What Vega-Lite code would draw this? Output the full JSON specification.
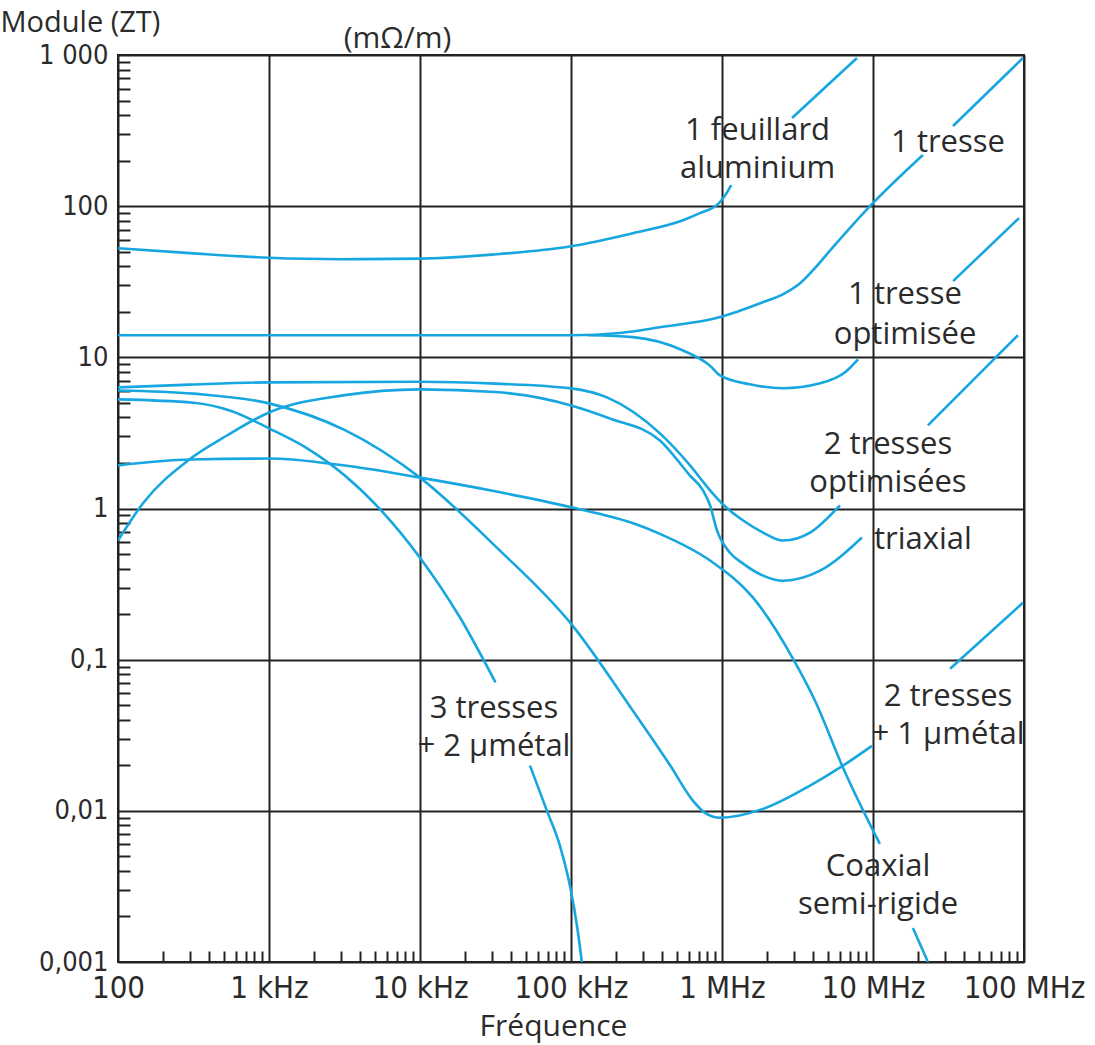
{
  "$schema": "https://vega.github.io/schema/vega-lite/v6.json",
  "width": 906,
  "height": 907,
  "autosize": {"type": "none"},
  "padding": {"left": 118, "top": 55, "right": 71, "bottom": 83},
  "background": "white",
  "config": {"view": {"stroke": "#222222", "strokeWidth": 2}},
  "datasets": {
    "curves": [
      {"s": "alu1", "f": 100, "z": 52.7}, {"s": "alu1", "f": 300, "z": 48.9}, {"s": "alu1", "f": 1000, "z": 45.6}, {"s": "alu1", "f": 3000, "z": 44.6}, {"s": "alu1", "f": 10000, "z": 45.0}, {"s": "alu1", "f": 30000, "z": 47.8}, {"s": "alu1", "f": 100000, "z": 54.3}, {"s": "alu1", "f": 257000, "z": 66.3}, {"s": "alu1", "f": 552000, "z": 80.8}, {"s": "alu1", "f": 714000, "z": 89.9}, {"s": "alu1", "f": 955000, "z": 104.7}, {"s": "alu1", "f": 1050000, "z": 118}, {"s": "alu1", "f": 1150000, "z": 138},
      {"s": "alu2", "f": 2910000, "z": 383}, {"s": "alu2", "f": 7830000, "z": 955},
      {"s": "tr1a", "f": 100, "z": 14.0}, {"s": "tr1a", "f": 10000, "z": 14.0}, {"s": "tr1a", "f": 100000, "z": 14.0}, {"s": "tr1a", "f": 211000, "z": 14.5}, {"s": "tr1a", "f": 388000, "z": 15.8}, {"s": "tr1a", "f": 960000, "z": 18.4}, {"s": "tr1a", "f": 1790000, "z": 22.8}, {"s": "tr1a", "f": 2600000, "z": 26.5}, {"s": "tr1a", "f": 3290000, "z": 30.9}, {"s": "tr1a", "f": 4010000, "z": 37.7}, {"s": "tr1a", "f": 5430000, "z": 53.5}, {"s": "tr1a", "f": 9550000, "z": 100}, {"s": "tr1a", "f": 21400000, "z": 218},
      {"s": "tr1b", "f": 33900000, "z": 339}, {"s": "tr1b", "f": 98400000, "z": 955},
      {"s": "op1a", "f": 130000, "z": 14.0}, {"s": "op1a", "f": 257000, "z": 13.6}, {"s": "op1a", "f": 552000, "z": 11.1}, {"s": "op1a", "f": 833000, "z": 8.8}, {"s": "op1a", "f": 970000, "z": 7.6}, {"s": "op1a", "f": 1530000, "z": 6.63}, {"s": "op1a", "f": 2540000, "z": 6.24}, {"s": "op1a", "f": 4460000, "z": 6.73}, {"s": "op1a", "f": 6530000, "z": 7.96}, {"s": "op1a", "f": 7960000, "z": 9.7},
      {"s": "op1b", "f": 33900000, "z": 31.9}, {"s": "op1b", "f": 92700000, "z": 83.4},
      {"s": "op2a", "f": 100, "z": 6.33}, {"s": "op2a", "f": 300, "z": 6.6}, {"s": "op2a", "f": 1000, "z": 6.83}, {"s": "op2a", "f": 10000, "z": 6.9}, {"s": "op2a", "f": 31400, "z": 6.7}, {"s": "op2a", "f": 100000, "z": 6.23}, {"s": "op2a", "f": 173000, "z": 5.43}, {"s": "op2a", "f": 388000, "z": 3.14}, {"s": "op2a", "f": 614000, "z": 1.93}, {"s": "op2a", "f": 833000, "z": 1.32}, {"s": "op2a", "f": 1050000, "z": 1.03}, {"s": "op2a", "f": 1380000, "z": 0.833}, {"s": "op2a", "f": 1870000, "z": 0.693}, {"s": "op2a", "f": 2540000, "z": 0.614}, {"s": "op2a", "f": 3830000, "z": 0.693}, {"s": "op2a", "f": 6040000, "z": 1.05},
      {"s": "op2b", "f": 23100000, "z": 3.55}, {"s": "op2b", "f": 91200000, "z": 14.0},
      {"s": "tri", "f": 100, "z": 0.614}, {"s": "tri", "f": 146, "z": 1.08}, {"s": "tri", "f": 291, "z": 2.08}, {"s": "tri", "f": 527, "z": 3.04}, {"s": "tri", "f": 1000, "z": 4.32}, {"s": "tri", "f": 3090, "z": 5.6}, {"s": "tri", "f": 10000, "z": 6.14}, {"s": "tri", "f": 31400, "z": 5.9}, {"s": "tri", "f": 100000, "z": 4.81}, {"s": "tri", "f": 181000, "z": 3.94}, {"s": "tri", "f": 388000, "z": 2.82}, {"s": "tri", "f": 614000, "z": 1.65}, {"s": "tri", "f": 748000, "z": 1.32}, {"s": "tri", "f": 833000, "z": 1.05}, {"s": "tri", "f": 927000, "z": 0.715}, {"s": "tri", "f": 1130000, "z": 0.51}, {"s": "tri", "f": 1380000, "z": 0.432}, {"s": "tri", "f": 1870000, "z": 0.36}, {"s": "tri", "f": 2540000, "z": 0.333}, {"s": "tri", "f": 4460000, "z": 0.388}, {"s": "tri", "f": 8450000, "z": 0.643},
      {"s": "m1a", "f": 100, "z": 6.04}, {"s": "m1a", "f": 316, "z": 5.75}, {"s": "m1a", "f": 1000, "z": 4.96}, {"s": "m1a", "f": 3162, "z": 3.31}, {"s": "m1a", "f": 10000, "z": 1.6}, {"s": "m1a", "f": 31623, "z": 0.562}, {"s": "m1a", "f": 100000, "z": 0.173}, {"s": "m1a", "f": 257000, "z": 0.0459}, {"s": "m1a", "f": 453000, "z": 0.02}, {"s": "m1a", "f": 643000, "z": 0.01164}, {"s": "m1a", "f": 771000, "z": 0.0097}, {"s": "m1a", "f": 970000, "z": 0.009}, {"s": "m1a", "f": 1870000, "z": 0.0103}, {"s": "m1a", "f": 3830000, "z": 0.0147}, {"s": "m1a", "f": 6330000, "z": 0.0199}, {"s": "m1a", "f": 9840000, "z": 0.0269},
      {"s": "m1b", "f": 32400000, "z": 0.0871}, {"s": "m1b", "f": 98400000, "z": 0.238},
      {"s": "m2a", "f": 100, "z": 5.27}, {"s": "m2a", "f": 316, "z": 5.01}, {"s": "m2a", "f": 562, "z": 4.42}, {"s": "m2a", "f": 1000, "z": 3.39}, {"s": "m2a", "f": 1778, "z": 2.51}, {"s": "m2a", "f": 3162, "z": 1.66}, {"s": "m2a", "f": 5623, "z": 0.955}, {"s": "m2a", "f": 10000, "z": 0.473}, {"s": "m2a", "f": 18400, "z": 0.19}, {"s": "m2a", "f": 31600, "z": 0.0708},
      {"s": "m2b", "f": 53500, "z": 0.0199}, {"s": "m2b", "f": 69300, "z": 0.01}, {"s": "m2b", "f": 84500, "z": 0.00586}, {"s": "m2b", "f": 100000, "z": 0.00295}, {"s": "m2b", "f": 109600, "z": 0.00173}, {"s": "m2b", "f": 118000, "z": 0.001},
      {"s": "coa", "f": 100, "z": 1.93}, {"s": "coa", "f": 300, "z": 2.11}, {"s": "coa", "f": 1000, "z": 2.14}, {"s": "coa", "f": 3090, "z": 1.93}, {"s": "coa", "f": 10000, "z": 1.6}, {"s": "coa", "f": 31400, "z": 1.3}, {"s": "coa", "f": 100000, "z": 1.02}, {"s": "coa", "f": 250000, "z": 0.807}, {"s": "coa", "f": 388000, "z": 0.68}, {"s": "coa", "f": 833000, "z": 0.453}, {"s": "coa", "f": 1600000, "z": 0.258}, {"s": "coa", "f": 2950000, "z": 0.1016}, {"s": "coa", "f": 4130000, "z": 0.0535}, {"s": "coa", "f": 6330000, "z": 0.0193}, {"s": "coa", "f": 11100000, "z": 0.00604},
      {"s": "cob", "f": 18400000, "z": 0.00168}, {"s": "cob", "f": 23100000, "z": 0.001}
    ],
    "labels": [
      {"t": "1 feuillard", "f": 1720000, "z": 273.5},
      {"t": "aluminium", "f": 1720000, "z": 153},
      {"t": "1 tresse", "f": 31400000, "z": 228},
      {"t": "1 tresse", "f": 16300000, "z": 22.4},
      {"t": "optimisée", "f": 16300000, "z": 12.2},
      {"t": "2 tresses", "f": 12560000, "z": 2.31},
      {"t": "optimisées", "f": 12560000, "z": 1.276},
      {"t": "triaxial", "f": 21400000, "z": 0.543},
      {"t": "2 tresses", "f": 31400000, "z": 0.0496},
      {"t": "+ 1 µmétal", "f": 31400000, "z": 0.0278},
      {"t": "Coaxial", "f": 10800000, "z": 0.00372},
      {"t": "semi-rigide", "f": 10800000, "z": 0.00208},
      {"t": "3 tresses", "f": 30900, "z": 0.0413},
      {"t": "+ 2 µmétal", "f": 30900, "z": 0.0231}
    ]
  },
  "layer": [
    {
      "data": {"name": "curves"},
      "mark": {"type": "line", "interpolate": "monotone", "color": "#16a6e0", "strokeWidth": 2.6, "clip": true},
      "encoding": {
        "x": {
          "field": "f", "type": "quantitative",
          "scale": {"type": "log", "domain": [100, 100000000], "nice": false},
          "axis": {
            "orient": "bottom",
            "values": [100, 1000, 10000, 100000, 1000000, 10000000, 100000000],
            "grid": true, "gridColor": "#222222", "gridWidth": 2, "gridOpacity": 1,
            "ticks": false, "domain": false,
            "labelExpr": "datum.value == 100 ? '100' : datum.value == 1000 ? '1 kHz' : datum.value == 10000 ? '10 kHz' : datum.value == 100000 ? '100 kHz' : datum.value == 1000000 ? '1 MHz' : datum.value == 10000000 ? '10 MHz' : '100 MHz'",
            "labelFont": "DejaVu Sans Condensed, DejaVu Sans", "labelFontSize": 31, "labelColor": "#2b2b2b",
            "labelPadding": 11, "labelFlush": false, "labelOverlap": false, "labelBound": false,
            "title": "Fréquence", "titleFont": "Open Sans", "titleFontSize": 30, "titleFontWeight": "normal", "titleColor": "#2b2b2b",
            "titleX": 435, "titleY": 73, "titleBaseline": "alphabetic", "titleAlign": "center"
          }
        },
        "y": {
          "field": "z", "type": "quantitative",
          "scale": {"type": "log", "domain": [0.001, 1000], "nice": false},
          "axis": {
            "orient": "left",
            "values": [0.001, 0.01, 0.1, 1, 10, 100, 1000],
            "grid": true, "gridColor": "#222222", "gridWidth": 2, "gridOpacity": 1,
            "ticks": false, "domain": false,
            "labelExpr": "datum.value == 1000 ? '1 000' : datum.value == 100 ? '100' : datum.value == 10 ? '10' : datum.value == 1 ? '1' : datum.value == 0.1 ? '0,1' : datum.value == 0.01 ? '0,01' : '0,001'",
            "labelFont": "DejaVu Sans Condensed, DejaVu Sans", "labelFontSize": 27, "labelColor": "#2b2b2b",
            "labelPadding": 10, "labelBaseline": "middle", "labelAlign": "right", "labelFlush": false, "labelOverlap": false, "labelBound": false,
            "title": "Module (ZT)", "titleFont": "Open Sans", "titleFontSize": 29, "titleFontWeight": "normal", "titleColor": "#2b2b2b",
            "titleAngle": 0, "titleAlign": "left", "titleBaseline": "alphabetic", "titleX": -118, "titleY": -24
          }
        },
        "detail": {"field": "s"}
      }
    },
    {
      "data": {"name": "labels"},
      "mark": {"type": "text", "font": "Open Sans", "fontSize": 31, "color": "#2b2b2b", "baseline": "alphabetic", "align": "center"},
      "encoding": {
        "x": {
          "field": "f", "type": "quantitative",
          "scale": {"type": "log", "domain": [100, 100000000], "nice": false},
          "axis": {
            "orient": "bottom",
            "values": [200, 300, 400, 500, 600, 700, 800, 900, 2000, 3000, 4000, 5000, 6000, 7000, 8000, 9000, 20000, 30000, 40000, 50000, 60000, 70000, 80000, 90000, 200000, 300000, 400000, 500000, 600000, 700000, 800000, 900000, 2000000, 3000000, 4000000, 5000000, 6000000, 7000000, 8000000, 9000000, 20000000, 30000000, 40000000, 50000000, 60000000, 70000000, 80000000, 90000000],
            "grid": false, "labels": false, "domain": false,
            "ticks": true, "tickSize": -11, "tickWidth": 2, "tickColor": "#222222",
            "title": null
          }
        },
        "y": {
          "field": "z", "type": "quantitative",
          "scale": {"type": "log", "domain": [0.001, 1000], "nice": false},
          "axis": {
            "orient": "left",
            "values": [0.002, 0.003, 0.004, 0.005, 0.006, 0.007, 0.008, 0.009, 0.02, 0.03, 0.04, 0.05, 0.06, 0.07, 0.08, 0.09, 0.2, 0.3, 0.4, 0.5, 0.6, 0.7, 0.8, 0.9, 2, 3, 4, 5, 6, 7, 8, 9, 20, 30, 40, 50, 60, 70, 80, 90, 200, 300, 400, 500, 600, 700, 800, 900],
            "grid": false, "labels": false, "domain": false,
            "ticks": true, "tickSize": -12, "tickWidth": 2, "tickColor": "#222222",
            "title": "(mΩ/m)", "titleFont": "Open Sans", "titleFontSize": 30, "titleFontWeight": "normal", "titleColor": "#2b2b2b",
            "titleAngle": 0, "titleAlign": "center", "titleBaseline": "alphabetic", "titleX": 279, "titleY": -8
          }
        },
        "text": {"field": "t", "type": "nominal"}
      }
    }
  ],
  "resolve": {"axis": {"x": "independent", "y": "independent"}}
}
